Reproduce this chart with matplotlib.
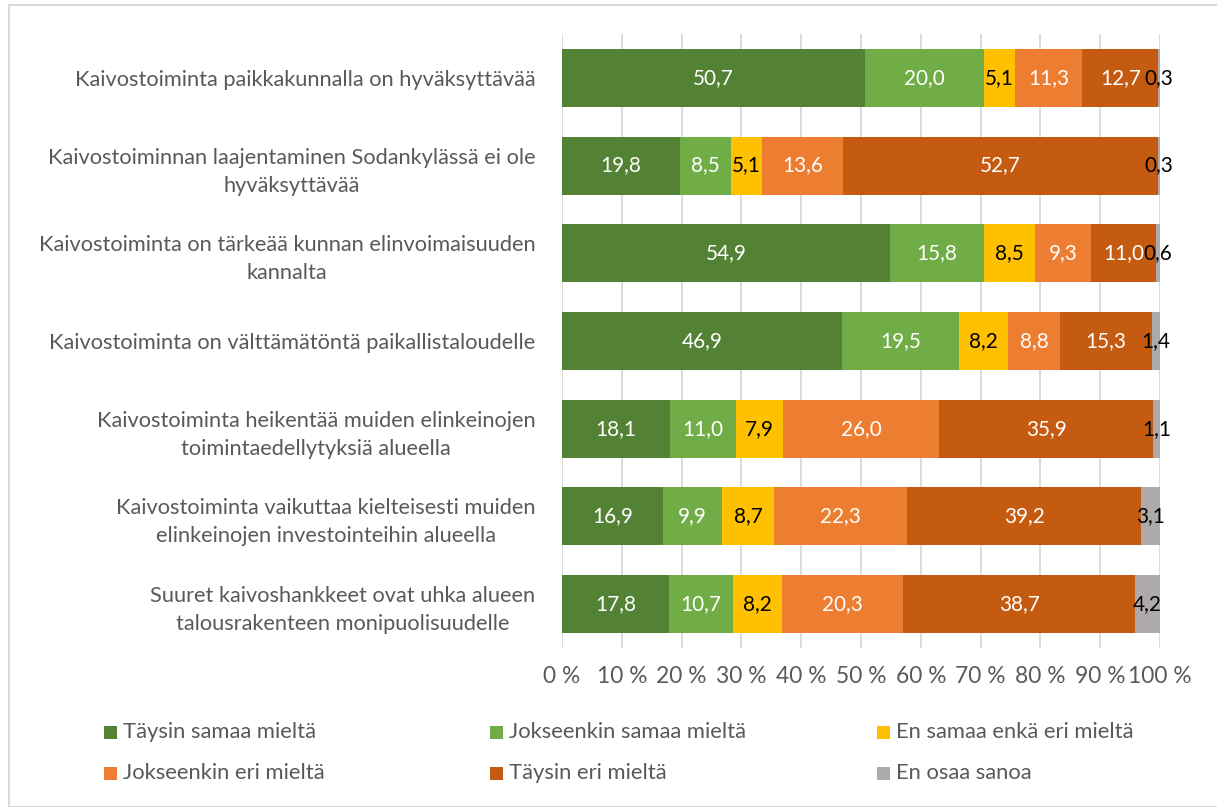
import matplotlib
matplotlib.use("Agg")
import matplotlib.pyplot as plt
import numpy as np
from matplotlib.patches import Rectangle

plt.rcParams['font.family'] = ['Lato', 'DejaVu Sans']

categories = [
    "Kaivostoiminta paikkakunnalla on hyväksyttävää",
    "Kaivostoiminnan laajentaminen Sodankylässä ei ole\nhyväksyttävää",
    "Kaivostoiminta on tärkeää kunnan elinvoimaisuuden\nkannalta",
    "Kaivostoiminta on välttämätöntä paikallistaloudelle",
    "Kaivostoiminta heikentää muiden elinkeinojen\ntoimintaedellytyksiä alueella",
    "Kaivostoiminta vaikuttaa kielteisesti muiden\nelinkeinojen investointeihin alueella",
    "Suuret kaivoshankkeet ovat uhka alueen\ntalousrakenteen monipuolisuudelle",
]
series_names = ["Täysin samaa mieltä", "Jokseenkin samaa mieltä", "En samaa enkä eri mieltä",
                "Jokseenkin eri mieltä", "Täysin eri mieltä", "En osaa sanoa"]
taysin_samaa = [50.7, 19.8, 54.9, 46.9, 18.1, 16.9, 17.8]
jokseenkin_samaa = [20.0, 8.5, 15.8, 19.5, 11.0, 9.9, 10.7]
en_samaa_enka_eri = [5.1, 5.1, 8.5, 8.2, 7.9, 8.7, 8.2]
jokseenkin_eri = [11.3, 13.6, 9.3, 8.8, 26.0, 22.3, 20.3]
taysin_eri = [12.7, 52.7, 11.0, 15.3, 35.9, 39.2, 38.7]
en_osaa = [0.3, 0.3, 0.6, 1.4, 1.1, 3.1, 4.2]
xtick_labels = [f"{v} %" for v in range(0, 101, 10)]

colors = ["#548235", "#70AD47", "#FFC000", "#ED7D31", "#C55A11", "#AEAAAA"]
label_colors = ["white", "white", "black", "white", "white", "black"]
TXT = "#595959"

data = np.array([taysin_samaa, jokseenkin_samaa, en_samaa_enka_eri,
                 jokseenkin_eri, taysin_eri, en_osaa])
totals = data.sum(axis=0)
pct = data / totals * 100

W, H = 1217, 807
fig = plt.figure(figsize=(W/100, H/100), dpi=100)
renderer = fig.canvas.get_renderer()


def fit_fs(text, target_px, fs0=14.0):
    t = fig.text(0, 0, text, fontsize=fs0)
    w = t.get_window_extent(renderer).width
    t.remove()
    return fs0 * target_px / w


fs_ylab = fit_fs(categories[0], 464)
fs_tick = fit_fs("100 %", 64)
fs_data = fit_fs("50,7", 41)
fs_leg = fit_fs(series_names[1], 238)

# linespacing so that two lines are 30 px apart
t1 = fig.text(0, 0, "Ag", fontsize=fs_ylab)
t2 = fig.text(0, 0, "Ag\nAg", fontsize=fs_ylab, linespacing=1.0)
h1 = t1.get_window_extent(renderer).height
h2 = t2.get_window_extent(renderer).height
t1.remove(); t2.remove()
ls = 30.0 / (h2 - h1)

ax = fig.add_axes([562/W, 1-648/H, (1160-562)/W, (648-34)/H])

y = np.arange(len(categories))
left = np.zeros(len(categories))
for i in range(len(series_names)):
    ax.barh(y, pct[i], left=left, height=0.66, color=colors[i], label=series_names[i], zorder=3)
    for j in range(len(categories)):
        ax.text(left[j] + pct[i][j]/2, y[j], f"{data[i][j]:.1f}".replace('.', ','),
                ha='center', va='center', color=label_colors[i], fontsize=fs_data, zorder=4)
    left += pct[i]

ax.set_xlim(0, 100)
ax.set_ylim(len(categories)-0.5, -0.5)
ax.set_xticks(np.arange(0, 101, 10))
ax.set_xticklabels(xtick_labels, color=TXT, fontsize=fs_tick)
ax.set_yticks(y)
ax.set_yticklabels(categories, color=TXT, fontsize=fs_ylab, multialignment='center',
                   linespacing=ls)
ax.tick_params(axis='both', length=0)
ax.tick_params(axis='y', pad=19)
ax.tick_params(axis='x', pad=13)
ax.xaxis.grid(True, color="#D9D9D9", linewidth=1.3, zorder=0)
ax.set_axisbelow(True)
for s in ax.spines.values():
    s.set_visible(False)

# legend: 3 columns x 2 rows, row-major order
col_x = [104, 490, 877]
row_y = [732, 773]
sq = 13
for k, name in enumerate(series_names):
    r, c = divmod(k, 3)
    x0, yc = col_x[c], row_y[r]
    fig.patches.append(Rectangle((x0/W, 1-(yc+sq/2)/H), sq/W, sq/H, transform=fig.transFigure,
                                 facecolor=colors[k], edgecolor='none'))
    fig.text((x0+sq+6)/W, 1-yc/H, name, fontsize=fs_leg, color=TXT, ha='left', va='center')

fig.patches.append(Rectangle((9/W, 0), 1, 1-5/H, transform=fig.transFigure,
                             fill=False, edgecolor="#D9D9D9", linewidth=1.5))

fig.savefig("out.png", dpi=100)
